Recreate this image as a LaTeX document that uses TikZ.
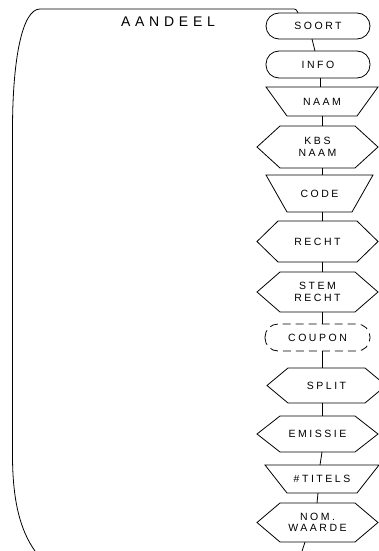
\documentclass[tikz,border=0pt]{standalone}
\usepackage{fontspec}
\setmainfont{Liberation Sans}
\usetikzlibrary{calc}
\tikzset{
  shp/.style={draw=black, line width=0.8pt, line join=miter},
  con/.style={draw=black, line width=0.8pt},
  txt/.style={inner sep=0pt, outer sep=0pt, align=center,
    font=\fontsize{10.5}{11.5}\selectfont\addfontfeature{LetterSpace=24}},
}
\newcommand\hexnode[7]{%
  \node[txt, minimum width=#4pt, minimum height=#5pt] (#1) at (#2,#3) {#7};
  \draw[shp] (#1.west) -- ([xshift=#6pt]#1.north west) -- ([xshift=-#6pt]#1.north east)
    -- (#1.east) -- ([xshift=-#6pt]#1.south east) -- ([xshift=#6pt]#1.south west) -- cycle;}
\newcommand\trapnode[7]{%
  \node[txt, minimum width=#4pt, minimum height=#5pt] (#1) at (#2,#3) {#7};
  \draw[shp] (#1.north west) -- (#1.north east) -- ([xshift=-#6pt]#1.south east)
    -- ([xshift=#6pt]#1.south west) -- cycle;}
\newcommand\stadnode[6]{%
  \node[txt, minimum width=#4pt, minimum height=#5pt] (#1) at (#2,#3) {#6};}
\begin{document}
\begin{tikzpicture}[x=1pt,y=-1pt]
\useasboundingbox (0,0) rectangle (379,551);
\clip (0,0) rectangle (379,551);
\coordinate (spine) at (322,0);

% nodes
\stadnode{soort}{318}{26}{104}{26}{SOORT}
\draw[shp, rounded corners=13pt] (soort.south west) rectangle (soort.north east);
\stadnode{info}{318}{64.5}{104}{27}{INFO}
\draw[shp, rounded corners=13pt] (info.south west) rectangle (info.north east);
\trapnode{naam}{322}{101.5}{112}{29}{21}{NAAM}
\hexnode{kbs}{317.5}{147}{121}{42}{23}{KBS\\NAAM}
\trapnode{code}{319.5}{193.5}{107}{37}{21}{CODE}
\hexnode{recht}{317.5}{241.5}{121}{41}{21}{RECHT}
\hexnode{stem}{317.5}{292}{121}{40}{23}{STEM\\RECHT}
\stadnode{coupon}{317.5}{337.5}{105}{27}{COUPON}
\draw[shp, dash pattern=on 8pt off 5pt, rounded corners=13pt] (coupon.south west) rectangle (coupon.north east);
\hexnode{split}{326.5}{385.5}{119}{35}{21}{SPLIT}
\hexnode{emissie}{317.5}{434}{121}{36}{23}{EMISSIE}
\trapnode{titels}{322}{479}{114}{28}{22}{\#TITELS}
\hexnode{nom}{317.5}{522.5}{121}{39}{23}{NOM.\\WAARDE}

% title
\node[inner sep=0pt, font=\fontsize{14}{16}\selectfont\addfontfeature{LetterSpace=34}] (title) at (168,21.5) {AANDEEL};

% outline
\coordinate (outend) at (35,551);
\draw[con] ([xshift=-20pt]soort.north) .. controls (296,9) .. (292,9) -- (40,9)
  .. controls (22,9) and (12.5,60) .. (12.5,130) -- (12.5,455)
  .. controls (12.5,500) and (20,530) .. (outend);

% connectors
\draw[con] ([xshift=-6pt]soort.south) -- ([xshift=-3pt]info.north);
\draw[con] ([xshift=2pt]info.south) -- ($(spine |- naam.north)+(-2,0)$);
\draw[con] (spine |- naam.south) -- (spine |- kbs.north);
\draw[con] (spine |- kbs.south) -- (spine |- code.north);
\draw[con] (spine |- code.south) -- (spine |- recht.north);
\draw[con] (spine |- recht.south) -- (spine |- stem.north);
\draw[con] (spine |- stem.south) -- (spine |- coupon.north);
\draw[con] (spine |- coupon.south) -- (spine |- split.north);
\draw[con] (spine |- split.south) -- (spine |- emissie.north);
\draw[con] (spine |- emissie.south) -- ($(spine |- titels.north)+(-2,0)$);
\draw[con] ([xshift=-4pt]titels.south) -- ([xshift=-0.5pt]nom.north);
\coordinate (nomend) at (302,551);
\draw[con] ([xshift=-12.5pt]nom.south) -- (nomend);
\end{tikzpicture}
\end{document}
